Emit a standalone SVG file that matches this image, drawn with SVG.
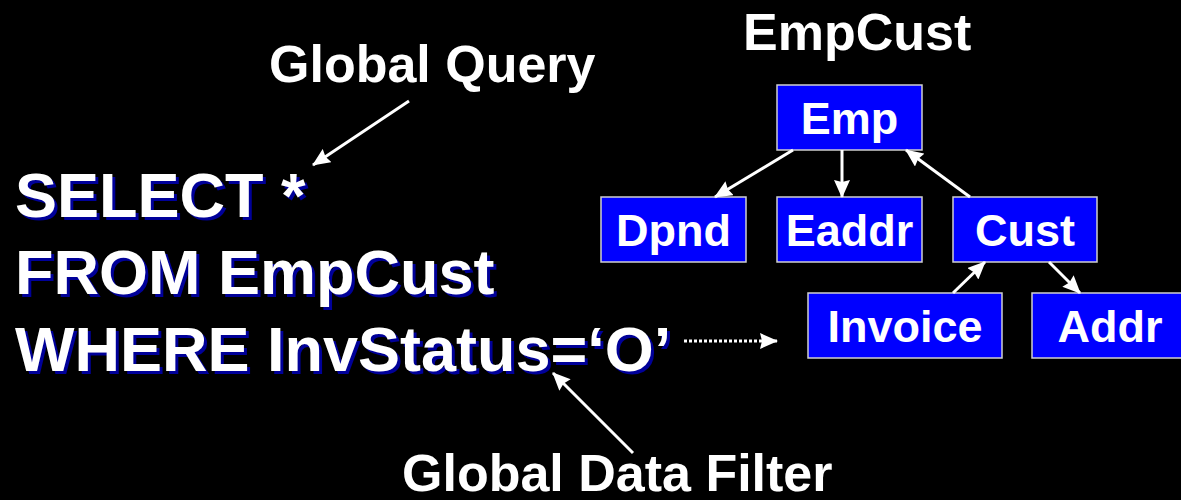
<svg xmlns="http://www.w3.org/2000/svg" width="1181" height="500" viewBox="0 0 1181 500">
<defs>
<style>
.lbl{font-family:"Liberation Sans",Arial,sans-serif;font-weight:bold;fill:#fff;font-size:52px}
.sql{font-family:"Liberation Sans",Arial,sans-serif;font-weight:bold;font-size:63px}
.sh{fill:#000099}
.fg{fill:#fff}
.box{fill:#0000ff;stroke:#d0d0d0;stroke-width:1.5}
.bt{font-family:"Liberation Sans",Arial,sans-serif;font-weight:bold;fill:#fff;font-size:45px;text-anchor:middle}
.ln{stroke:#fff;stroke-width:3;fill:none}
.dot{stroke:#fff;stroke-width:3;fill:none;stroke-dasharray:3 2}
</style>
<marker id="ah" viewBox="0 0 18 16" refX="17" refY="8" markerWidth="18" markerHeight="16" orient="auto" markerUnits="userSpaceOnUse">
<path d="M0,0 L18,8 L0,16 L2,8 z" fill="#fff"/>
</marker>
</defs>
<rect width="1181" height="500" fill="#000"/>
<g id="labels">
<text class="lbl" x="269" y="82">Global Query</text>
<text class="lbl" x="743" y="50">EmpCust</text>
<text class="lbl" x="402" y="491">Global Data Filter</text>
</g>
<g id="sql">
<g class="sql sh" transform="translate(3,3)">
<text x="15" y="217">SELECT *</text>
<text x="15" y="294">FROM EmpCust</text>
<text x="15" y="371">WHERE InvStatus=‘O’</text>
</g>
<g class="sql fg">
<text x="15" y="217">SELECT *</text>
<text x="15" y="294">FROM EmpCust</text>
<text x="15" y="371">WHERE InvStatus=‘O’</text>
</g>
</g>
<g id="node-emp"><rect class="box" x="777" y="85" width="145" height="65"/><text class="bt" x="849.5" y="134">Emp</text></g>
<g id="node-dpnd"><rect class="box" x="601" y="197" width="145" height="65"/><text class="bt" x="673.5" y="246">Dpnd</text></g>
<g id="node-eaddr"><rect class="box" x="777" y="197" width="145" height="65"/><text class="bt" x="849.5" y="246">Eaddr</text></g>
<g id="node-cust"><rect class="box" x="953" y="197" width="144" height="65"/><text class="bt" x="1025" y="246">Cust</text></g>
<g id="node-invoice"><rect class="box" x="808" y="293" width="194" height="65"/><text class="bt" x="905" y="342">Invoice</text></g>
<g id="node-addr"><rect class="box" x="1032" y="293" width="158" height="65"/><text class="bt" x="1110" y="342">Addr</text></g>
<g id="connectors">
<line class="ln" x1="409" y1="101" x2="313" y2="165" marker-end="url(#ah)"/>
<line class="ln" x1="633" y1="453" x2="553" y2="373" marker-end="url(#ah)"/>
<line class="dot" x1="684" y1="341" x2="777" y2="341" marker-end="url(#ah)"/>
<line class="ln" x1="793" y1="150" x2="715" y2="197" marker-end="url(#ah)"/>
<line class="ln" x1="842" y1="150" x2="842" y2="197" marker-end="url(#ah)"/>
<line class="ln" x1="970" y1="197" x2="906" y2="150" marker-end="url(#ah)"/>
<line class="ln" x1="953" y1="293" x2="985" y2="262" marker-end="url(#ah)"/>
<line class="ln" x1="1049" y1="262" x2="1080" y2="293" marker-end="url(#ah)"/>
</g>
</svg>
